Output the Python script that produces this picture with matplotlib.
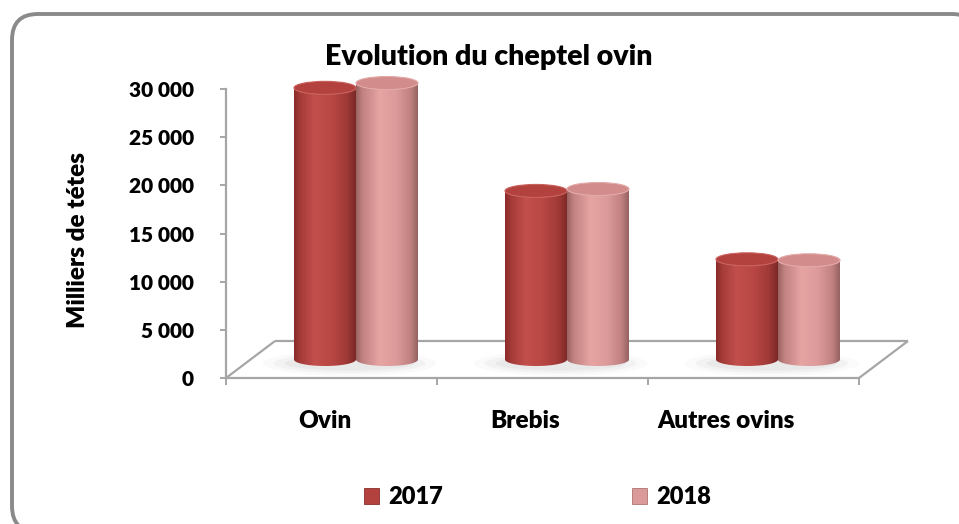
import numpy as np
import matplotlib
matplotlib.use("Agg")
import matplotlib.pyplot as plt
from matplotlib.patches import Polygon, Ellipse, FancyBboxPatch, Patch
from matplotlib.colors import to_rgb

# ---------------- data ----------------
categories = ["Ovin", "Brebis", "Autres ovins"]
series_names = ["2017", "2018"]
values_2017 = [28200, 17500, 10400]
values_2018 = [28700, 17700, 10300]
y_ticks = [0, 5000, 10000, 15000, 20000, 25000, 30000]
y_tick_labels = ["0", "5 000", "10 000", "15 000", "20 000", "25 000", "30 000"]
title_text = "Evolution du cheptel ovin"
y_label_text = "Milliers de tétes"

# ---------------- style ----------------
plt.rcParams['font.family'] = ['Lato', 'DejaVu Sans']
WT = 'heavy'
plt.rcParams['font.weight'] = WT

W, H = 959, 524
fig = plt.figure(figsize=(W / 100, H / 100), dpi=100)
fig.patch.set_facecolor('white')

# background / rounded frame (pixel coordinates)
bg = fig.add_axes([0, 0, 1, 1])
bg.set_xlim(0, W)
bg.set_ylim(H, 0)
bg.axis('off')
bg.add_patch(FancyBboxPatch((12, 14), 966, 518,
                            boxstyle="round,pad=0,rounding_size=26",
                            fc='white', ec='#8a8a8a', lw=2.8))

# main axes: x in category units, y in value units
px_per_cat = 211.0
px_per_val = 289.0 / 30000
x_max, y_max = 3.3, 32000
ax = fig.add_axes([226 / W, 146 / H, x_max * px_per_cat / W, y_max * px_per_val / H])
ax.set_xlim(0, x_max)
ax.set_ylim(0, y_max)
ax.patch.set_alpha(0)

grey = '#a6a6a6'
depth_x = 49 / px_per_cat
depth_y = 37 / px_per_val
bar_w = 62 / px_per_cat
ry = 6.5 / px_per_val
base = depth_y / 2

# floor
floor_lines = [((0, depth_x), (0, depth_y)),
               ((depth_x, 3 + depth_x), (depth_y, depth_y)),
               ((3, 3 + depth_x), (0, depth_y))]
for xs, ys in floor_lines:
    ax.plot(xs, ys, color=grey, lw=1.6, zorder=1, clip_on=False, solid_capstyle='butt')

# spines / ticks
for s in ['top', 'right']:
    ax.spines[s].set_visible(False)
ax.spines['left'].set_bounds(0, 30000)
ax.spines['bottom'].set_bounds(0, 3)
ax.spines['left'].set_color(grey)
ax.spines['bottom'].set_color(grey)
ax.spines['left'].set_linewidth(1.6)
ax.spines['bottom'].set_linewidth(1.6)
ax.set_yticks(y_ticks)
ax.set_yticklabels(y_tick_labels)
ax.tick_params(axis='y', length=4, width=1.4, color=grey, pad=19, labelsize=15)
for lab in ax.get_yticklabels():
    lab.set_fontweight(WT)
ax.set_xticks([])
ax.set_xticks([0, 1, 2, 3], minor=True)
ax.tick_params(axis='x', which='minor', length=5, width=1.4, color=grey, direction='out')

# category labels
label_x = np.arange(len(categories)) * 0.95 + 0.47
label_y = -43 / px_per_val
for lx, c in zip(label_x, categories):
    ax.text(lx, label_y, c, ha='center', va='center', fontsize=17.5, fontweight=WT,
            clip_on=False)


def make_gradient(stops, n=256):
    pos = np.array([p for p, _ in stops])
    cols = np.array([to_rgb(c) for _, c in stops])
    xs = np.linspace(0, 1, n)
    arr = np.stack([np.interp(xs, pos, cols[:, k]) for k in range(3)], axis=-1)
    return arr[np.newaxis, :, :]


grad_2017 = [(0.0, '#882c2a'), (0.10, '#a53b38'), (0.33, '#c24f4c'),
             (0.60, '#b94744'), (0.85, '#a03a37'), (1.0, '#7a2826')]
grad_2018 = [(0.0, '#9a6261'), (0.10, '#c08180'), (0.38, '#e6a4a3'),
             (0.65, '#dc9b9a'), (0.88, '#c08180'), (1.0, '#946261')]
top_cols = [('#b3413e', '#c9605c'), ('#d18c8b', '#e3a8a7')]


def cylinder(xc, top, stops, top_fc, top_ec, z):
    rx = bar_w / 2
    t1 = np.linspace(np.pi, 2 * np.pi, 80)
    bottom = np.column_stack([xc + rx * np.cos(t1), base + ry * np.sin(t1)])
    t2 = np.linspace(2 * np.pi, np.pi, 80)
    topfront = np.column_stack([xc + rx * np.cos(t2), top + ry * np.sin(t2)])
    body = Polygon(np.vstack([bottom, topfront]), closed=True, fc='none', ec='none', zorder=z)
    ax.add_patch(body)
    im = ax.imshow(make_gradient(stops), extent=[xc - rx, xc + rx, base - ry, top + ry],
                   aspect='auto', zorder=z, interpolation='bilinear', origin='lower')
    im.set_clip_path(body)
    ax.add_patch(Ellipse((xc, top), bar_w, 2 * ry, fc=top_fc, ec=top_ec, lw=0.8, zorder=z + 0.1))


series = [values_2017, values_2018]
for i in range(len(categories)):
    pair_c = i + 0.5 + depth_x / 2
    # soft shadow on floor
    for k, a in enumerate([0.04, 0.06, 0.08]):
        ax.add_patch(Ellipse((pair_c - 0.03, base - ry * 0.6), bar_w * (2.8 - 0.35 * k),
                             2 * ry * (1.9 - 0.4 * k), fc='#808080', ec='none',
                             alpha=a, zorder=1.5))
    for j, vals in enumerate(series):
        xc = pair_c + (j - 0.5) * bar_w
        cylinder(xc, base + vals[i], [grad_2017, grad_2018][j],
                 top_cols[j][0], top_cols[j][1], 2 + j)

ax.set_xlim(0, x_max)
ax.set_ylim(0, y_max)

# title and axis title
fig.text(489 / W, 1 - 57 / H, title_text, ha='center', va='center', fontsize=20.5,
         fontweight=WT)
fig.text(78 / W, 1 - 240 / H, y_label_text, ha='center', va='center', fontsize=17.5,
         fontweight=WT, rotation=90)

# legend
handles = [Patch(facecolor='#b3413e', edgecolor='#8a2e2c', lw=0.6),
           Patch(facecolor='#d99a99', edgecolor='#b07473', lw=0.6)]
leg = fig.legend(handles, series_names, loc='center', bbox_to_anchor=(537.5 / W, 1 - 497 / H),
                 ncol=2, frameon=False, handlelength=0.64, handleheight=0.64,
                 handletextpad=0.38, columnspacing=8.0, prop={'size': 17, 'weight': WT})

fig.savefig('out.png', dpi=100, facecolor='white')
